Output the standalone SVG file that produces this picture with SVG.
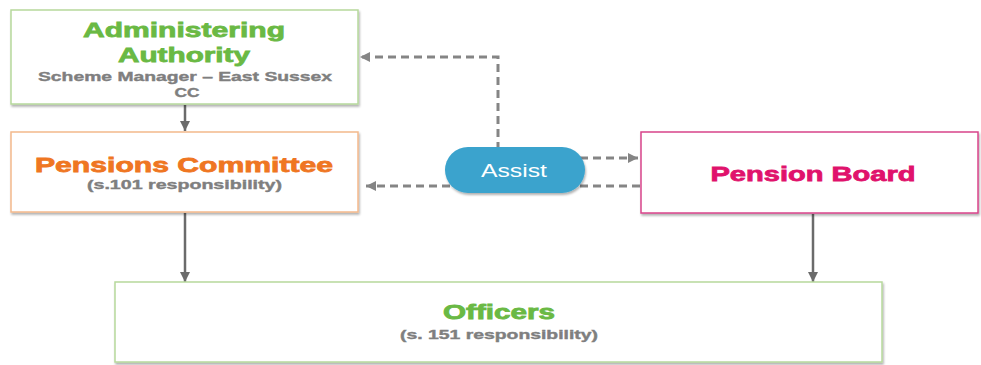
<svg xmlns="http://www.w3.org/2000/svg" width="981" height="365" viewBox="0 0 981 365">
  <defs>
    <filter id="sh" x="-5%" y="-10%" width="110%" height="130%">
      <feDropShadow dx="1" dy="2" stdDeviation="1" flood-color="#000" flood-opacity="0.3"/>
    </filter>
    <marker id="ah" viewBox="0 0 10 10" refX="10" refY="5" markerWidth="10" markerHeight="10" markerUnits="userSpaceOnUse" orient="auto">
      <path d="M0,0 L10,5 L0,10 z" fill="#6b6b6b"/>
    </marker>
    <marker id="ahd" viewBox="0 0 10 10" refX="10" refY="5" markerWidth="10" markerHeight="10" markerUnits="userSpaceOnUse" orient="auto">
      <path d="M0,0 L10,5 L0,10 z" fill="#858585"/>
    </marker>
  </defs>
  <style>
    .box { fill: #ffffff; stroke-width: 1.5; filter: url(#sh); }
    .green { stroke: #b6d99c; }
    .orange { stroke: #f4b98c; }
    .pink { stroke: #d8448a; }
    text { font-family: "Liberation Sans", Arial, sans-serif; font-weight: bold; text-anchor: middle; }
    .t-green { fill: #6ab944; stroke: #6ab944; stroke-width: 0.8; font-size: 21px; }
    .t-orange { fill: #ef7622; stroke: #ef7622; stroke-width: 0.8; font-size: 21px; }
    .t-pink { fill: #e0126c; stroke: #e0126c; stroke-width: 0.8; font-size: 21px; }
    .sub { fill: #7f7f7f; stroke: #7f7f7f; stroke-width: 0.4; font-size: 13px; }
    .solid { stroke: #6b6b6b; stroke-width: 2.5; fill: none; marker-end: url(#ah); }
    .dash { stroke: #858585; stroke-width: 3; fill: none; stroke-dasharray: 8 5; }
    .dash.arr { marker-end: url(#ahd); }
  </style>

  <g id="connectors">
    <line class="solid" x1="185" y1="105" x2="185" y2="131"/>
    <line class="solid" x1="185" y1="213" x2="185" y2="282"/>
    <line class="solid" x1="813" y1="214" x2="813" y2="282"/>
    <path class="dash arr" d="M498,150 V57 H360"/>
    <path class="dash arr" d="M450,186 H366"/>
    <path class="dash arr" d="M580,158 H638"/>
    <path class="dash" d="M580,186 H641"/>
  </g>

  <g id="administering-authority">
    <rect class="box green" x="11" y="10" width="347" height="94"/>
    <text class="t-green" x="184" y="37" textLength="202" lengthAdjust="spacingAndGlyphs">Administering</text>
    <text class="t-green" x="184" y="62" textLength="132" lengthAdjust="spacingAndGlyphs">Authority</text>
    <text class="sub" x="185" y="81" textLength="294" lengthAdjust="spacingAndGlyphs">Scheme Manager – East Sussex</text>
    <text class="sub" x="187" y="97" textLength="25" lengthAdjust="spacingAndGlyphs">CC</text>
  </g>

  <g id="pensions-committee">
    <rect class="box orange" x="11" y="132" width="347" height="80"/>
    <text class="t-orange" x="184" y="172" textLength="298" lengthAdjust="spacingAndGlyphs">Pensions Committee</text>
    <text class="sub" x="184.5" y="189" textLength="195" lengthAdjust="spacingAndGlyphs">(s.101 responsibility)</text>
  </g>

  <g id="pension-board">
    <rect class="box pink" x="641" y="132" width="337" height="81"/>
    <text class="t-pink" x="813" y="181" textLength="205" lengthAdjust="spacingAndGlyphs">Pension Board</text>
  </g>

  <g id="officers">
    <rect class="box green" x="115" y="282" width="767" height="80"/>
    <text class="t-green" x="499" y="319" style="font-size:20px" textLength="112" lengthAdjust="spacingAndGlyphs">Officers</text>
    <text class="sub" x="499" y="339" textLength="198" lengthAdjust="spacingAndGlyphs">(s. 151 responsibility)</text>
  </g>

  <g id="assist">
    <rect x="445" y="147" width="140" height="46" rx="23" ry="23" fill="#3aa3cd" filter="url(#sh)"/>
    <text x="514" y="177" style="font-weight:normal; font-size:18px; fill:#ffffff" textLength="66" lengthAdjust="spacingAndGlyphs">Assist</text>
  </g>
</svg>
